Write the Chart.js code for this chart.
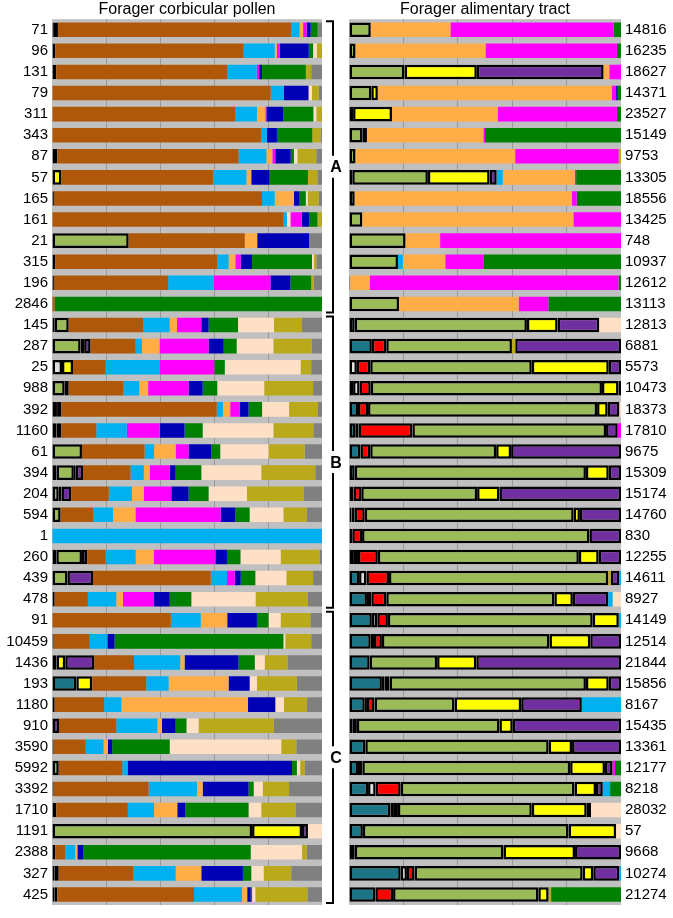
<!DOCTYPE html>
<html>
<head>
<meta charset="utf-8">
<script src="https://cdn.jsdelivr.net/npm/chart.js@4.4.1/dist/chart.umd.min.js"></script>
<style>
    body { margin: 0; background: #fff; }
    #wrap { position: relative; width: 673px; height: 918px; }
    #pollenBox { position: absolute; left: 0; top: 0; width: 345px; height: 918px; }
    #tractBox { position: absolute; left: 345px; top: 0; width: 328px; height: 918px; }
</style>
</head>
<body>
<div id="wrap">
    <div id="pollenBox"><canvas id="pollenChart"></canvas></div>
    <div id="tractBox"><canvas id="tractChart"></canvas></div>
</div>
<script>
// taxon colours
const taxonColors = {
    br: '#b0580a', // brown
    lb: '#00b0f0', // light blue
    db: '#0000b4', // dark blue
    gn: '#008000', // green
    ol: '#bba91c', // olive
    gy: '#808080', // grey
    pk: '#ff00ff', // pink
    or: '#ffad47', // orange
    pe: '#fde0c5', // peach
    lg: '#9bbb59', // light green
    ye: '#ffff00', // yellow
    pu: '#7030a0', // purple
    te: '#1c7585', // teal
    rd: '#ff0000', // red
    wh: '#e0e0e0'  // white
};
// core taxa get the thick black outline
const outlinedTaxa = ['lg', 'ye', 'pu', 'te', 'rd', 'wh'];

const groupNames = ['A', 'B', 'C'];
const groupRows = [[0, 13], [14, 27], [28, 41]];

const pollenLabels = ['71', '96', '131', '79', '311', '343', '87', '57', '165', '161', '21', '315', '196', '2846',
    '145', '287', '25', '988', '392', '1160', '61', '394', '204', '594', '1', '260', '439', '478',
    '91', '10459', '1436', '193', '1180', '910', '3590', '5992', '3392', '1710', '1191', '2388', '327', '425'];

const tractLabels = ['14816', '16235', '18627', '14371', '23527', '15149', '9753', '13305', '18556', '13425', '748', '10937', '12612', '13113',
    '12813', '6881', '5573', '10473', '18373', '17810', '9675', '15309', '15174', '14760', '830', '12255', '14611', '8927',
    '14149', '12514', '21844', '15856', '8167', '15435', '13361', '12177', '8218', '28032', '57', '9668', '10274', '21274'];

// each row: [taxon, cumulative % where the segment ends]
const pollenSegments = [
    [['lg', 0.7], ['pu', 2.2], ['br', 88.6], ['lb', 91.7], ['or', 93], ['pk', 94.3], ['db', 95.8], ['gn', 98.4], ['gy', 100]],
    [['pu', 1.2], ['br', 71], ['lb', 82.5], ['or', 83.3], ['pk', 84.3], ['db', 95.1], ['gn', 96.7], ['pe', 98.1], ['ol', 100]],
    [['lg', 1.6], ['br', 64.9], ['lb', 75.8], ['pk', 76.7], ['db', 77.8], ['gn', 94], ['ol', 96], ['gy', 100]],
    [['br', 81], ['lb', 85.9], ['db', 95], ['pe', 96.3], ['ol', 98.8], ['gy', 100]],
    [['br', 67.8], ['lb', 75.9], ['or', 79], ['pk', 79.4], ['db', 85.6], ['gn', 96.8], ['pe', 97.9], ['ol', 100]],
    [['br', 77.5], ['lb', 79.6], ['db', 83.3], ['gn', 96.4], ['ol', 99.5], ['gy', 100]],
    [['pu', 2], ['br', 69.1], ['lb', 79.4], ['or', 81.6], ['pk', 82.7], ['db', 88.4], ['gn', 89.6], ['pe', 90.9], ['ol', 97.9], ['gy', 100]],
    [['ye', 3.5], ['br', 59.6], ['lb', 72], ['or', 73.8], ['db', 80.6], ['gn', 94.8], ['ol', 98.3], ['gy', 100]],
    [['lg', 0.7], ['br', 77.8], ['lb', 82.5], ['or', 89.6], ['db', 91.7], ['gn', 94], ['pe', 94.7], ['ol', 98.8], ['gy', 100]],
    [['br', 85.8], ['lb', 87], ['pe', 88.3], ['pk', 92.5], ['db', 95.2], ['gn', 98.3], ['ol', 100]],
    [['lg', 28.4], ['br', 71.4], ['or', 76], ['db', 95.2], ['gy', 100]],
    [['pu', 1.2], ['br', 61.2], ['lb', 65.4], ['or', 67.9], ['pk', 69.9], ['db', 74.1], ['gn', 96.3], ['pe', 97], ['ol', 97.9], ['gy', 100]],
    [['lg', 0.7], ['br', 43], ['lb', 59.9], ['pk', 80.9], ['db', 88.3], ['gn', 96], ['ol', 96.9], ['gy', 100]],
    [['br', 1], ['gn', 100]],
    [['te', 1], ['lg', 6.2], ['br', 33.7], ['lb', 43.6], ['or', 46.3], ['pk', 55.3], ['db', 58], ['gn', 68.9], ['pe', 82.2], ['ol', 92.6], ['gy', 100]],
    [['lg', 10.6], ['ye', 11.9], ['pu', 14.3], ['br', 31], ['lb', 33.3], ['or', 39.8], ['pk', 58], ['db', 63.6], ['gn', 68.4], ['pe', 82], ['ol', 96.2], ['gy', 100]],
    [['wh', 3.7], ['ye', 7.8], ['br', 19.9], ['lb', 40], ['pk', 60.1], ['gn', 64], ['pe', 92.1], ['ol', 96], ['gy', 100]],
    [['lg', 4.7], ['pu', 6.2], ['br', 26.5], ['lb', 32.3], ['or', 35.6], ['pk', 50.6], ['db', 55.8], ['gn', 61.2], ['pe', 78.6], ['ol', 96.7], ['gy', 100]],
    [['te', 1.5], ['lg', 2.2], ['pu', 3.5], ['br', 61], ['lb', 63.3], ['or', 66], ['pk', 69.5], ['db', 72.8], ['gn', 77.8], ['pe', 87.8], ['ol', 98.5], ['gy', 100]],
    [['lg', 1.7], ['lg', 3.5], ['br', 16.4], ['lb', 27.7], ['pk', 39.9], ['db', 49.1], ['gn', 55.8], ['pe', 82], ['ol', 96.8], ['gy', 100]],
    [['lg', 11.1], ['br', 34.3], ['lb', 37.8], ['or', 45.8], ['pk', 50.6], ['db', 59], ['gn', 62.3], ['pe', 80.2], ['ol', 93.6], ['gy', 100]],
    [['rd', 1.7], ['lg', 8.1], ['ye', 8.8], ['pu', 11.5], ['br', 29.1], ['lb', 34], ['or', 36.2], ['pk', 43.6], ['db', 45.8], ['gn', 55.3], ['pe', 77.5], ['ol', 97.5], ['gy', 100]],
    [['lg', 2.5], ['ye', 3.5], ['pu', 7.2], ['br', 21], ['lb', 29.6], ['or', 34], ['pk', 44.2], ['db', 50.6], ['gn', 58], ['pe', 72.2], ['ol', 93.3], ['gy', 100]],
    [['lg', 3.2], ['br', 15.2], ['lb', 22.6], ['or', 30.9], ['pk', 62.5], ['db', 67.9], ['gn', 73.2], ['pe', 85.7], ['ol', 94.4], ['gy', 100]],
    [['lb', 100]],
    [['wh', 1.6], ['lg', 11.1], ['pu', 13.1], ['br', 19.9], ['lb', 31], ['or', 37.7], ['pk', 60.5], ['db', 64.8], ['gn', 69.8], ['pe', 84.7], ['ol', 99.1], ['gy', 100]],
    [['lg', 5.7], ['pu', 15.2], ['br', 58.8], ['lb', 64.8], ['pk', 67.7], ['db', 69.9], ['gn', 75.3], ['pe', 86.8], ['ol', 96.7], ['gy', 100]],
    [['lg', 1], ['br', 13.3], ['lb', 23.8], ['or', 26.3], ['pk', 37.8], ['db', 43.6], ['gn', 51.6], ['pe', 75.4], ['ol', 94.8], ['gy', 100]],
    [['br', 44], ['lb', 55.1], ['or', 64.9], ['db', 75.9], ['gn', 80.2], ['pe', 84.7], ['ol', 95.7], ['gy', 100]],
    [['lg', 0.6], ['br', 14], ['lb', 20.5], ['db', 23.2], ['gn', 85.7], ['pe', 86.4], ['ol', 96], ['gy', 100]],
    [['te', 1.7], ['ye', 4.9], ['pu', 15.6], ['br', 30.4], ['lb', 47.5], ['or', 49.1], ['db', 69.1], ['gn', 75.1], ['pe', 78.8], ['ol', 87.2], ['gy', 100]],
    [['te', 9], ['ye', 14.9], ['br', 34.9], ['lb', 43.2], ['or', 65.4], ['db', 73.2], ['pe', 75.9], ['ol', 90.7], ['gy', 100]],
    [['lg', 1], ['br', 19.3], ['lb', 25.7], ['or', 72.6], ['db', 82.7], ['pe', 85.9], ['ol', 94.4], ['gy', 100]],
    [['pu', 2.6], ['br', 23.8], ['lb', 39], ['or', 40.7], ['db', 45.8], ['gn', 49.8], ['pe', 54.3], ['ol', 82.2], ['gy', 100]],
    [['lg', 0.6], ['br', 12.5], ['lb', 19.1], ['or', 20.7], ['db', 22.3], ['gn', 43.6], ['pe', 84.9], ['ol', 90.5], ['gy', 100]],
    [['lg', 2.5], ['br', 26], ['lb', 28], ['db', 88.9], ['gn', 90.7], ['pe', 91.9], ['ol', 93.6], ['gy', 100]],
    [['lg', 0.6], ['br', 35.8], ['lb', 53.7], ['or', 55.8], ['db', 72.8], ['gn', 74.7], ['pe', 78.1], ['ol', 87.8], ['gy', 100]],
    [['te', 1.6], ['br', 28.1], ['lb', 37.8], ['or', 46.4], ['db', 49.4], ['gn', 72.8], ['pe', 77.5], ['ol', 90.2], ['gy', 100]],
    [['lg', 74.1], ['ye', 92.6], ['pu', 94.8], ['pe', 100]],
    [['lg', 1.2], ['br', 4.9], ['lb', 8.6], ['or', 9.4], ['db', 11.5], ['gn', 73.6], ['pe', 92.6], ['ol', 94.4], ['gy', 100]],
    [['lg', 1], ['pu', 2.5], ['br', 30.2], ['lb', 45.8], ['or', 55.3], ['db', 70.7], ['gn', 73.8], ['pe', 78.4], ['ol', 88.6], ['gy', 100]],
    [['te', 1], ['lg', 2], ['br', 52.6], ['lb', 70.4], ['or', 72.3], ['db', 73.6], ['gn', 74.1], ['pe', 75.3], ['ol', 94.6], ['gy', 100]]
];

const tractSegments = [
    [['lg', 8], ['or', 37.3], ['pk', 97.3], ['gn', 100]],
    [['lg', 2.4], ['or', 50.2], ['pk', 98.5], ['gn', 100]],
    [['lg', 20.4], ['ye', 47], ['pu', 93.6], ['or', 95.7], ['pk', 100]],
    [['lg', 8.2], ['ye', 10.6], ['or', 96.7], ['pk', 98.2], ['db', 98.8], ['gn', 100]],
    [['lg', 1.5], ['ye', 15.8], ['or', 54.7], ['pk', 98.5], ['gn', 100]],
    [['lg', 4.9], ['lg', 6.6], ['or', 49.4], ['pk', 50], ['gn', 100]],
    [['lg', 2.4], ['or', 61.1], ['pk', 99.1], ['ol', 100]],
    [['rd', 1.2], ['lg', 29], ['ye', 51.7], ['pu', 54.3], ['lb', 56.5], ['or', 83], ['pk', 83.5], ['gn', 100]],
    [['lg', 2.1], ['or', 82], ['pk', 83.7], ['gn', 100]],
    [['lg', 4.9], ['or', 82.5], ['pk', 100]],
    [['lg', 20.8], ['or', 33.5], ['pk', 100]],
    [['lg', 18], ['lb', 19.8], ['or', 35.4], ['pk', 49.6], ['gn', 100]],
    [['lg', 0.4], ['or', 7.6], ['pk', 99.1], ['gn', 100]],
    [['lg', 18.4], ['or', 62.4], ['pk', 73.3], ['gn', 100]],
    [['te', 2.1], ['lg', 65.4], ['ye', 76.7], ['pu', 92], ['pe', 100]],
    [['te', 8.4], ['rd', 13.7], ['lg', 59.9], ['ol', 61.1], ['pu', 100]],
    [['wh', 2.9], ['rd', 7.8], ['lg', 67.2], ['ye', 95.5], ['pu', 100]],
    [['te', 1.5], ['wh', 3.9], ['rd', 8], ['lg', 93], ['ye', 99.1], ['pu', 100]],
    [['te', 3.3], ['rd', 7], ['lg', 91.2], ['ye', 95.1], ['pu', 99.4], ['pe', 100]],
    [['te', 2.3], ['wh', 3.5], ['rd', 23.3], ['lg', 94.5], ['pu', 98.8], ['pk', 100]],
    [['te', 4.2], ['rd', 7.8], ['lg', 54.1], ['ye', 59.6], ['pu', 100]],
    [['te', 2.1], ['lg', 87.1], ['ye', 95.5], ['pu', 100]],
    [['te', 1.7], ['rd', 4.5], ['lg', 47.1], ['ye', 55.3], ['pu', 100]],
    [['te', 0.9], ['wh', 2.1], ['rd', 5.8], ['lg', 82.6], ['ye', 84.9], ['pu', 100]],
    [['te', 1.2], ['rd', 4.8], ['lg', 88.4], ['pu', 100]],
    [['te', 1.5], ['wh', 3.3], ['rd', 10.6], ['lg', 84.5], ['ye', 91.8], ['pu', 100]],
    [['te', 3.7], ['wh', 6.4], ['rd', 14.7], ['lg', 95.3], ['ol', 96.3], ['pu', 99.4], ['lb', 100]],
    [['te', 6.6], ['wh', 8.2], ['rd', 13.7], ['lg', 75.5], ['ye', 82.3], ['pu', 95.3], ['lb', 96.9], ['pe', 100]],
    [['te', 8.4], ['wh', 10.4], ['rd', 14.3], ['lg', 89.6], ['ye', 99.2], ['lb', 100]],
    [['te', 8], ['wh', 9.2], ['rd', 12.1], ['lg', 73.7], ['ye', 88.7], ['pu', 100]],
    [['te', 7.6], ['lg', 32.4], ['ye', 46.8], ['pu', 100]],
    [['te', 12.1], ['wh', 13.1], ['rd', 14.9], ['lg', 87.1], ['ye', 95.5], ['pu', 100]],
    [['te', 5.8], ['wh', 6.6], ['rd', 9.4], ['lg', 38.8], ['ye', 63.3], ['pu', 85.6], ['lb', 100]],
    [['te', 1.2], ['rd', 2.9], ['lg', 55.3], ['ye', 60.2], ['pu', 100]],
    [['te', 6], ['lg', 73.4], ['ye', 82], ['pu', 100]],
    [['te', 3.3], ['rd', 4.9], ['lg', 81.3], ['ye', 94.1], ['pu', 96.9], ['pk', 97.8], ['gn', 100]],
    [['te', 7], ['wh', 9.8], ['rd', 19], ['lg', 82.9], ['ye', 90.8], ['pu', 93.3], ['lb', 96], ['gn', 100]],
    [['te', 15.2], ['wh', 16.2], ['rd', 18], ['lg', 67.2], ['ye', 87.4], ['pu', 89], ['pe', 100]],
    [['te', 5.1], ['lg', 80.7], ['ye', 98.2], ['pe', 100]],
    [['te', 1.1], ['wh', 2.1], ['lg', 56.8], ['ye', 83.1], ['pu', 100]],
    [['te', 19], ['wh', 21.3], ['rd', 24.1], ['lg', 85.9], ['ye', 89.8], ['pu', 99.4], ['lb', 100]],
    [['te', 9.7], ['rd', 16.2], ['lg', 69.6], ['ye', 73.4], ['ol', 74.3], ['gn', 100]]
];

// one dataset per segment position, floating bars [start, end]
const buildDatasets = (rows) => {
    const maxSegs = Math.max(...rows.map(r => r.length));
    const sets = [];
    for (let k = 0; k < maxSegs; k++) {
        sets.push({
            data: rows.map(r => r[k] ? [k ? r[k - 1][1] : 0, r[k][1]] : null),
            backgroundColor: rows.map(r => r[k] ? taxonColors[r[k][0]] : 'transparent'),
            borderColor: '#000',
            borderWidth: rows.map(r => r[k] && outlinedTaxa.includes(r[k][0]) ? 2.5 : 0),
            borderSkipped: false,
            grouped: false,
            barPercentage: 0.69,
            categoryPercentage: 1
        });
    }
    return sets;
};

const plotBackground = {
    id: 'plotBackground',
    beforeDraw(chart) {
        const { ctx, chartArea } = chart;
        ctx.save();
        ctx.fillStyle = '#c0c0c0';
        ctx.fillRect(chartArea.left, chartArea.top, chartArea.right - chartArea.left, chartArea.bottom - chartArea.top);
        ctx.restore();
    }
};

// A / B / C brackets between the two panels
const groupBrackets = {
    id: 'groupBrackets',
    afterDraw(chart) {
        const { ctx } = chart;
        const yScale = chart.scales.y;
        const pitch = yScale.getPixelForValue(1) - yScale.getPixelForValue(0);
        const x = chart.chartArea.right + 11;
        ctx.save();
        ctx.strokeStyle = '#000';
        ctx.lineWidth = 2;
        ctx.fillStyle = '#000';
        ctx.font = 'bold 16px Arial';
        ctx.textAlign = 'center';
        ctx.textBaseline = 'middle';
        groupRows.forEach((g, i) => {
            const top = yScale.getPixelForValue(g[0]) - pitch / 2 + 2;
            const bottom = yScale.getPixelForValue(g[1]) + pitch / 2 - 2;
            const mid = (top + bottom) / 2;
            ctx.beginPath();
            ctx.moveTo(x - 7, top);
            ctx.lineTo(x, top);
            ctx.lineTo(x, mid - 11);
            ctx.moveTo(x, mid + 11);
            ctx.lineTo(x, bottom);
            ctx.lineTo(x - 7, bottom);
            ctx.stroke();
            ctx.fillText(groupNames[i], x + 3, mid + 1);
        });
        ctx.restore();
    }
};

const makeOptions = (title, axisSide, pad) => ({
    indexAxis: 'y',
    responsive: true,
    maintainAspectRatio: false,
    animation: false,
    layout: { padding: pad },
    plugins: {
        legend: { display: false },
        tooltip: { enabled: false },
        title: {
            display: true,
            text: title,
            fullSize: false,
            color: '#000',
            font: { family: 'Arial', size: 16, weight: 'normal', lineHeight: 1.2 },
            padding: { top: 0, bottom: 0 }
        }
    },
    scales: {
        x: {
            min: 0,
            max: 100,
            ticks: { display: false, stepSize: 20 },
            border: { display: false },
            grid: {
                drawTicks: false,
                color: (c) => (c.tick && c.tick.value > 0 && c.tick.value < 100) ? '#9a9a9a' : 'transparent'
            }
        },
        y: {
            position: axisSide,
            grid: { display: false, drawTicks: false },
            border: { display: false },
            ticks: { color: '#000', font: { family: 'Arial', size: 15 }, padding: 4, autoSkip: false },
            afterFit: (scale) => { scale.width = 52; }
        }
    }
});

const pollenChart = new Chart(document.getElementById('pollenChart'), {
    type: 'bar',
    data: { labels: pollenLabels, datasets: buildDatasets(pollenSegments) },
    options: makeOptions('Forager corbicular pollen', 'left', { top: 0, right: 23, bottom: 5.6, left: 0 }),
    plugins: [plotBackground, groupBrackets]
});

const tractChart = new Chart(document.getElementById('tractChart'), {
    type: 'bar',
    data: { labels: tractLabels, datasets: buildDatasets(tractSegments) },
    options: makeOptions('Forager alimentary tract', 'right', { top: 0, right: 0, bottom: 5.6, left: 4 }),
    plugins: [plotBackground]
});
</script>
</body>
</html>
